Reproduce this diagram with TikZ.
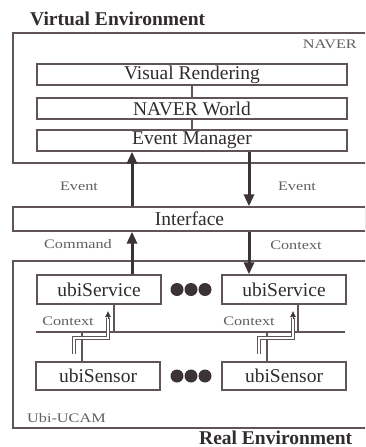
\documentclass[tikz,border=0pt]{standalone}
\usepackage{fontspec}
\setmainfont{Liberation Serif}
\newfontfamily\lblfont[FakeStretch=1.25]{Liberation Serif}
\usetikzlibrary{arrows.meta}
\definecolor{ln}{RGB}{95,85,85}
\definecolor{tx}{RGB}{50,45,45}
\definecolor{lt}{RGB}{100,95,95}
\definecolor{ar}{RGB}{60,52,52}
\begin{document}
\begin{tikzpicture}[x=1pt,y=-1pt,
  box/.style={draw=ln, line width=1.3pt, inner sep=0pt, text=tx, font=\fontsize{19.5}{20}\selectfont},
  outer/.style={draw=ln, line width=1.3pt, inner sep=0pt},
  lbl/.style={text=lt, inner sep=0pt, font=\lblfont\fontsize{13}{14}\selectfont},
  title/.style={text=tx, inner sep=0pt, font=\bfseries\fontsize{19.5}{20}\selectfont},
  bigarrow/.style={draw=ar, line width=3pt, -{Triangle[length=12pt,width=10pt]}},
  link/.style={draw=ln, line width=1.3pt},
  dot/.style={circle, fill=ar, inner sep=0pt, minimum size=13pt},
  ctx/.style={draw=ln, line width=0.8pt, double=white, double distance=1.8pt},
  ctxhead/.style={draw=ar, line width=0.6pt, -{Latex[length=6pt,width=6pt]}}
]
\clip (0,0) rectangle (365,447);
\fill[white] (0,0) rectangle (365,447);

% titles
\node[title, anchor=base west] (ve) at (30,25) {Virtual Environment};
\node[title, anchor=base west] (re) at (199,444) {Real Environment};

% NAVER block
\node[outer, minimum width=354pt, minimum height=130pt] (naver) at (190,98) {};
\node[lbl, anchor=base east] (naverlbl) at (357,48) {NAVER};
\node[box, minimum width=310pt, minimum height=21pt] (vr) at (192,74.5) {Visual Rendering};
\node[box, minimum width=310pt, minimum height=21pt] (nw) at (192,108.5) {NAVER World};
\node[box, minimum width=310pt, minimum height=21pt] (em) at (192,140.5) {Event Manager};
\draw[link] (vr) -- (nw);
\draw[link] (nw) -- (em);

% interface
\node[box, minimum width=353pt, minimum height=24pt] (iface) at (189.5,219) {Interface};

% Ubi-UCAM block
\node[outer, minimum width=354pt, minimum height=167pt] (ucam) at (190,344.5) {};
\node[lbl, anchor=base west] (ucamlbl) at (27,422) {Ubi-UCAM};

\node[box, minimum width=124pt, minimum height=29pt] (s1) at (99,289.5) {ubiService};
\node[box, minimum width=124pt, minimum height=29pt] (s2) at (284,289.5) {ubiService};
\node[box, minimum width=124pt, minimum height=28pt] (n1) at (98,376) {ubiSensor};
\node[box, minimum width=124pt, minimum height=28pt] (n2) at (284,376) {ubiSensor};

\node[dot] (d1) at (177,289.5) {};
\node[dot] (d2) at (191,289.5) {};
\node[dot] (d3) at (205,289.5) {};
\node[dot] (d4) at (177,376) {};
\node[dot] (d5) at (191,376) {};
\node[dot] (d6) at (205,376) {};

% bus
\coordinate (busl) at (36,332);
\coordinate (busr) at (345,332);
\draw[link] (busl) -- (busr);
\draw[link] (s1.south -| 114,0) -- (busl -| 114,0);
\draw[link] (s2.south -| 298,0) -- (busl -| 298,0);
\draw[link] (busl -| 82,0) -- (n1.north -| 82,0);
\draw[link] (busl -| 267,0) -- (n2.north -| 267,0);

% context flows
\coordinate (c1a) at (74,354);
\coordinate (c1b) at (108,311);
\draw[ctx] (c1a) -- (74,338) -- (108,338) -- (108,318);
\draw[ctxhead] (108,319) -- (c1b);
\coordinate (c2a) at (259,354);
\coordinate (c2b) at (293,311);
\draw[ctx] (c2a) -- (259,338) -- (293,338) -- (293,318);
\draw[ctxhead] (293,319) -- (c2b);

% big arrows
\coordinate (xa) at (132,0);
\coordinate (xb) at (249,0);
\draw[bigarrow] (iface.north -| xa) -- (em.south -| xa);
\draw[bigarrow] (em.south -| xb) -- (iface.north -| xb);
\draw[bigarrow] (s1.north -| xa) -- (iface.south -| xa);
\draw[bigarrow] (iface.south -| xb) -- (s2.north -| xb);

% labels
\node[lbl] (ev1) at (79,186) {Event};
\node[lbl] (ev2) at (297,186) {Event};
\node[lbl] (cmd) at (78,244) {Command};
\node[lbl] (ctx0) at (296,245) {Context};
\node[lbl] (ctx1) at (68,321) {Context};
\node[lbl] (ctx2) at (249,321) {Context};
\end{tikzpicture}
\end{document}
